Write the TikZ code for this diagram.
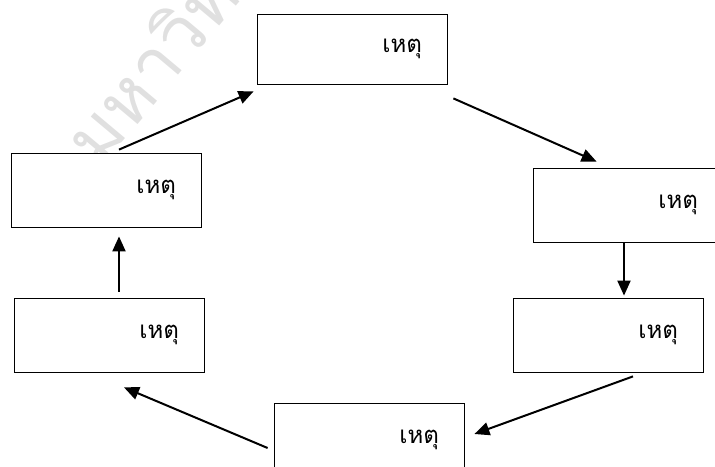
\documentclass[tikz,border=0pt]{standalone}
\usepackage{fontspec}
\newfontfamily\thaifont[Script=Thai]{Loma}
\usetikzlibrary{arrows.meta,positioning}

\begin{document}
\begin{tikzpicture}[x=1pt, y=-1pt, >={Triangle[length=15pt, width=13pt]},
  causebox/.style={draw, thick, fill=white, minimum height=74pt,
    text width=140pt, inner xsep=25pt, inner ysep=0pt, align=right,
    font=\thaifont\fontsize{24}{26}\selectfont},
  flow/.style={->, line width=2pt}]
\useasboundingbox (0,0) rectangle (715,466);

%% watermark
\node[rotate=50, anchor=south west, text=black!12, inner sep=0pt,
  font=\thaifont\fontsize{72}{72}\selectfont] (wmark) at (100,170) {มหาวิทย};

%% boxes
\node[causebox, minimum height=70pt] (top) at (352,49) {เหตุ};
\node[causebox] (ru) at (628,205) {เหตุ};
\node[causebox] (rl) at (608,335) {เหตุ};
\node[causebox] (bot) at (369,440) {เหตุ};
\node[causebox] (ll) at (109,335) {เหตุ};
\node[causebox] (lu) at (106,190) {เหตุ};

%% arrows round the cycle
\draw[flow] ([shift={(13,-3)}]lu.north) -- ([shift={(-3,7)}]top.south west);
\draw[flow] ([shift={(6,14)}]top.south east) -- ([shift={(64,-6)}]ru.north west);
\draw[flow] ([shift={(-4,1)}]ru.south) -- ([shift={(16,-2)}]rl.north);
\draw[flow] ([shift={(25,4)}]rl.south) -- ([shift={(10,-6)}]bot.east);
\draw[flow] ([shift={(-6,8)}]bot.west) -- ([shift={(15,15)}]ll.south);
\draw[flow] ([shift={(10,-6)}]ll.north) -- ([shift={(13,9)}]lu.south);

\end{tikzpicture}
\end{document}
